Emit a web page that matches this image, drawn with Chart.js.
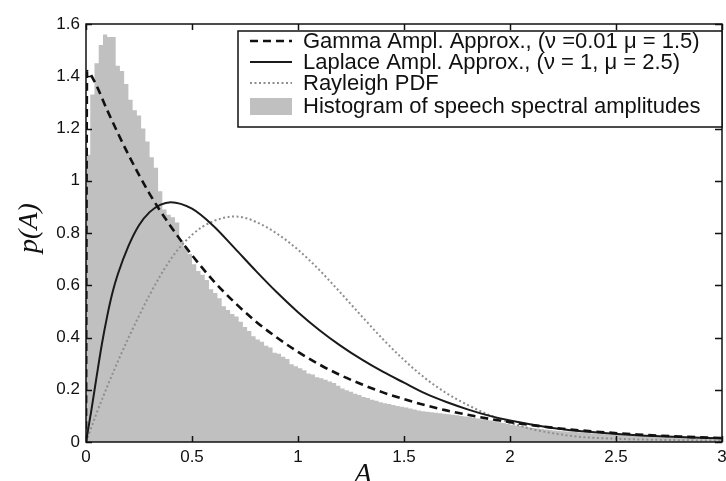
<!DOCTYPE html>
<html>
<head>
<meta charset="utf-8">
<title>p(A)</title>
<script src="https://cdn.jsdelivr.net/npm/chart.js@4.4.1/dist/chart.umd.min.js"></script>
<style>
    html, body { margin: 0; padding: 0; background: #fff; }
    #wrap { width: 726px; height: 481px; }
</style>
</head>
<body>
<div id="wrap"><canvas id="pdfChart" width="726" height="481"></canvas></div>
<script>
// histogram: bin width and heights (left edge = i * binWidth)
const binWidth = 0.02;
const histHeights = [
    0.84, 1.10, 1.33, 1.45, 1.52, 1.56, 1.55, 1.55, 1.44, 1.42,
    1.37, 1.31, 1.27, 1.25, 1.20, 1.15, 1.09, 1.05, 0.96, 0.89,
    0.87, 0.86, 0.84, 0.77, 0.745, 0.72, 0.68, 0.655, 0.64, 0.62,
    0.585, 0.57, 0.55, 0.52, 0.505, 0.49, 0.48, 0.46, 0.44, 0.425,
    0.405, 0.392, 0.384, 0.368, 0.362, 0.342, 0.338, 0.326, 0.318, 0.298,
    0.29, 0.282, 0.275, 0.262, 0.258, 0.248, 0.244, 0.238, 0.232, 0.226,
    0.215, 0.205, 0.198, 0.192, 0.185, 0.18, 0.172, 0.168, 0.162, 0.158,
    0.152, 0.148, 0.145, 0.142, 0.138, 0.135, 0.132, 0.128, 0.124, 0.121,
    0.118, 0.116, 0.114, 0.112, 0.110, 0.108, 0.106, 0.104, 0.102, 0.100,
    0.098, 0.096, 0.093, 0.090, 0.087, 0.085, 0.082, 0.079, 0.076, 0.073,
    0.069, 0.066, 0.063, 0.061, 0.059, 0.056, 0.054, 0.052, 0.050, 0.048,
    0.046, 0.044, 0.043, 0.041, 0.040, 0.039, 0.038, 0.036, 0.035, 0.034,
    0.033, 0.032, 0.031, 0.030, 0.029, 0.028, 0.027, 0.027, 0.026, 0.025,
    0.024, 0.024, 0.023, 0.022, 0.022, 0.021, 0.021, 0.020, 0.020, 0.019,
    0.019, 0.018, 0.018, 0.017, 0.017, 0.016, 0.016, 0.015, 0.015, 0.014
];

// Gamma amplitude approximation (dashed)
const gammaX = [0, 0.005, 0.04, 0.1, 0.2, 0.3, 0.4, 0.5, 0.6, 0.7, 0.8, 0.9, 1.0,
    1.1, 1.2, 1.3, 1.4, 1.5, 1.6, 1.7, 1.8, 1.9, 2.0, 2.2, 2.4, 2.6, 2.8, 3.0];
const gammaY = [0, 1.42, 1.38, 1.27, 1.10, 0.95, 0.825, 0.715, 0.618, 0.535, 0.462, 0.40, 0.345,
    0.297, 0.256, 0.221, 0.19, 0.164, 0.141, 0.121, 0.104, 0.089, 0.076, 0.055, 0.04, 0.029, 0.021, 0.015];

// Laplace amplitude approximation (solid)
const laplaceX = [0, 0.025, 0.05, 0.075, 0.1, 0.125, 0.15, 0.2, 0.25, 0.3, 0.35, 0.4, 0.5, 0.6, 0.7, 0.8, 0.9, 1.0,
    1.1, 1.2, 1.3, 1.4, 1.5, 1.6, 1.7, 1.8, 1.9, 2.0, 2.2, 2.4, 2.6, 2.8, 3.0];
const laplaceY = [0, 0.12, 0.25, 0.375, 0.482, 0.572, 0.642, 0.75, 0.83, 0.88, 0.908, 0.918, 0.893, 0.828, 0.743, 0.656, 0.573, 0.497,
    0.429, 0.369, 0.316, 0.269, 0.227, 0.186, 0.153, 0.125, 0.101, 0.082, 0.054, 0.037, 0.026, 0.019, 0.014];

// Rayleigh PDF (dotted)
const rayleighX = [0, 0.05, 0.1, 0.15, 0.2, 0.25, 0.3, 0.35, 0.4, 0.45, 0.5, 0.55, 0.6, 0.65, 0.7, 0.75, 0.8, 0.85, 0.9, 0.95,
    1.0, 1.05, 1.1, 1.15, 1.2, 1.3, 1.4, 1.5, 1.6, 1.7, 1.8, 1.9, 2.0, 2.1, 2.2, 2.3, 2.4, 2.6, 2.8, 3.0];
const rayleighY = [0, 0.11, 0.212, 0.308, 0.398, 0.483, 0.563, 0.636, 0.70, 0.752, 0.793, 0.824, 0.845, 0.858, 0.863, 0.858, 0.843, 0.823, 0.798, 0.769,
    0.736, 0.699, 0.659, 0.616, 0.572, 0.482, 0.394, 0.314, 0.244, 0.187, 0.142, 0.104, 0.074, 0.05, 0.034, 0.022, 0.016, 0.01, 0.007, 0.005];

const xTicks = [0, 0.5, 1, 1.5, 2, 2.5, 3];
const xTickLabels = ['0', '0.5', '1', '1.5', '2', '2.5', '3'];
const yTicks = [0, 0.2, 0.4, 0.6, 0.8, 1, 1.2, 1.4, 1.6];
const yTickLabels = ['0', '0.2', '0.4', '0.6', '0.8', '1', '1.2', '1.4', '1.6'];

const seriesLabels = [
    'Gamma Ampl. Approx., (\u03bd =0.01 \u03bc = 1.5)',
    'Laplace Ampl. Approx., (\u03bd = 1, \u03bc = 2.5)',
    'Rayleigh PDF',
    'Histogram of speech spectral amplitudes'
];

function toPoints(xs, ys) {
    return xs.map((x, i) => ({ x: x, y: ys[i] }));
}

const histPoints = histHeights.map((h, i) => ({ x: i * binWidth, y: h }));
histPoints.push({ x: histHeights.length * binWidth, y: histHeights[histHeights.length - 1] });

const tickFont = { family: "'Liberation Sans', Arial, sans-serif", size: 17 };

// box, inward ticks, legend and axis titles in MATLAB style
const framePlugin = {
    id: 'frame',
    afterDatasetsDraw(chart) {
        const ctx = chart.ctx;
        const a = chart.chartArea;
        const xs = chart.scales.x;
        const ys = chart.scales.y;
        ctx.save();
        ctx.strokeStyle = '#111';
        ctx.lineWidth = 1.5;
        ctx.strokeRect(a.left, a.top, a.right - a.left, a.bottom - a.top);

        ctx.beginPath();
        xTicks.forEach(v => {
            const px = Math.round(xs.getPixelForValue(v)) + 0.5;
            ctx.moveTo(px, a.bottom); ctx.lineTo(px, a.bottom - 6);
            ctx.moveTo(px, a.top); ctx.lineTo(px, a.top + 6);
        });
        yTicks.forEach(v => {
            const py = Math.round(ys.getPixelForValue(v)) + 0.5;
            ctx.moveTo(a.left, py); ctx.lineTo(a.left + 6, py);
            ctx.moveTo(a.right, py); ctx.lineTo(a.right - 7, py);
        });
        ctx.stroke();

        // legend
        const box = { left: 238, top: 31, right: a.right, bottom: 127 };
        ctx.fillStyle = '#fff';
        ctx.fillRect(box.left, box.top, box.right - box.left, box.bottom - box.top);
        ctx.lineWidth = 1.5;
        ctx.strokeStyle = '#111';
        ctx.strokeRect(box.left, box.top, box.right - box.left, box.bottom - box.top);

        const rows = [41, 62, 83, 106];
        const sx0 = 250, sx1 = 292, tx = 303;
        chart.data.datasets.forEach((ds, i) => {
            const y = rows[i];
            ctx.save();
            if (ds.fill) {
                ctx.fillStyle = ds.backgroundColor;
                ctx.fillRect(sx0, y - 8, sx1 - sx0, 17);
            } else {
                ctx.strokeStyle = ds.borderColor;
                ctx.lineWidth = ds.borderWidth;
                ctx.setLineDash(ds.borderDash || []);
                ctx.beginPath();
                ctx.moveTo(sx0, y);
                ctx.lineTo(sx1, y);
                ctx.stroke();
            }
            ctx.restore();
            ctx.fillStyle = '#111';
            ctx.font = "22px 'Liberation Sans', Arial, sans-serif";
            ctx.textBaseline = 'middle';
            ctx.textAlign = 'left';
            ctx.fillText(ds.label, tx, y + 1);
        });

        // axis titles
        ctx.fillStyle = '#111';
        ctx.font = "italic 28px 'Liberation Serif', 'Times New Roman', serif";
        ctx.textAlign = 'center';
        ctx.textBaseline = 'alphabetic';
        ctx.fillText('A', 363, 482);
        ctx.save();
        ctx.translate(37, 228);
        ctx.rotate(-Math.PI / 2);
        ctx.fillText('p(A)', 0, 0);
        ctx.restore();

        ctx.restore();
    }
};

new Chart(document.getElementById('pdfChart'), {
    type: 'line',
    data: {
        datasets: [{
            label: seriesLabels[0],
            data: toPoints(gammaX, gammaY),
            borderColor: '#111',
            borderWidth: 2.6,
            borderDash: [8, 5],
            fill: false,
            pointRadius: 0,
            cubicInterpolationMode: 'monotone'
        }, {
            label: seriesLabels[1],
            data: toPoints(laplaceX, laplaceY),
            borderColor: '#1a1a1a',
            borderWidth: 2,
            fill: false,
            pointRadius: 0,
            cubicInterpolationMode: 'monotone'
        }, {
            label: seriesLabels[2],
            data: toPoints(rayleighX, rayleighY),
            borderColor: '#8e8e8e',
            borderWidth: 2,
            borderDash: [2, 2.5],
            fill: false,
            pointRadius: 0,
            cubicInterpolationMode: 'monotone'
        }, {
            label: seriesLabels[3],
            data: histPoints,
            stepped: 'after',
            borderWidth: 0,
            borderColor: 'rgba(0,0,0,0)',
            backgroundColor: '#c0c0c0',
            fill: 'origin',
            pointRadius: 0
        }]
    },
    options: {
        responsive: false,
        animation: false,
        layout: { padding: { top: 24, right: 4, left: 0, bottom: 0 } },
        plugins: {
            legend: { display: false },
            tooltip: { enabled: false }
        },
        scales: {
            x: {
                type: 'linear',
                min: 0,
                max: 3,
                afterBuildTicks: scale => { scale.ticks = xTicks.map(v => ({ value: v })); },
                afterFit: scale => { scale.height = 39; scale.paddingLeft = 0; scale.paddingRight = 0; },
                grid: { display: false, drawTicks: false },
                border: { display: false },
                ticks: {
                    padding: 5,
                    color: '#111',
                    font: tickFont,
                    maxRotation: 0,
                    autoSkip: false,
                    callback: (v, i) => xTickLabels[i]
                }
            },
            y: {
                type: 'linear',
                min: 0,
                max: 1.6,
                afterBuildTicks: scale => { scale.ticks = yTicks.map(v => ({ value: v })); },
                afterFit: scale => { scale.width = 86; },
                grid: { display: false, drawTicks: false },
                border: { display: false },
                ticks: {
                    padding: 6,
                    color: '#111',
                    font: tickFont,
                    autoSkip: false,
                    callback: (v, i) => yTickLabels[i]
                }
            }
        }
    },
    plugins: [framePlugin]
});
</script>
</body>
</html>
